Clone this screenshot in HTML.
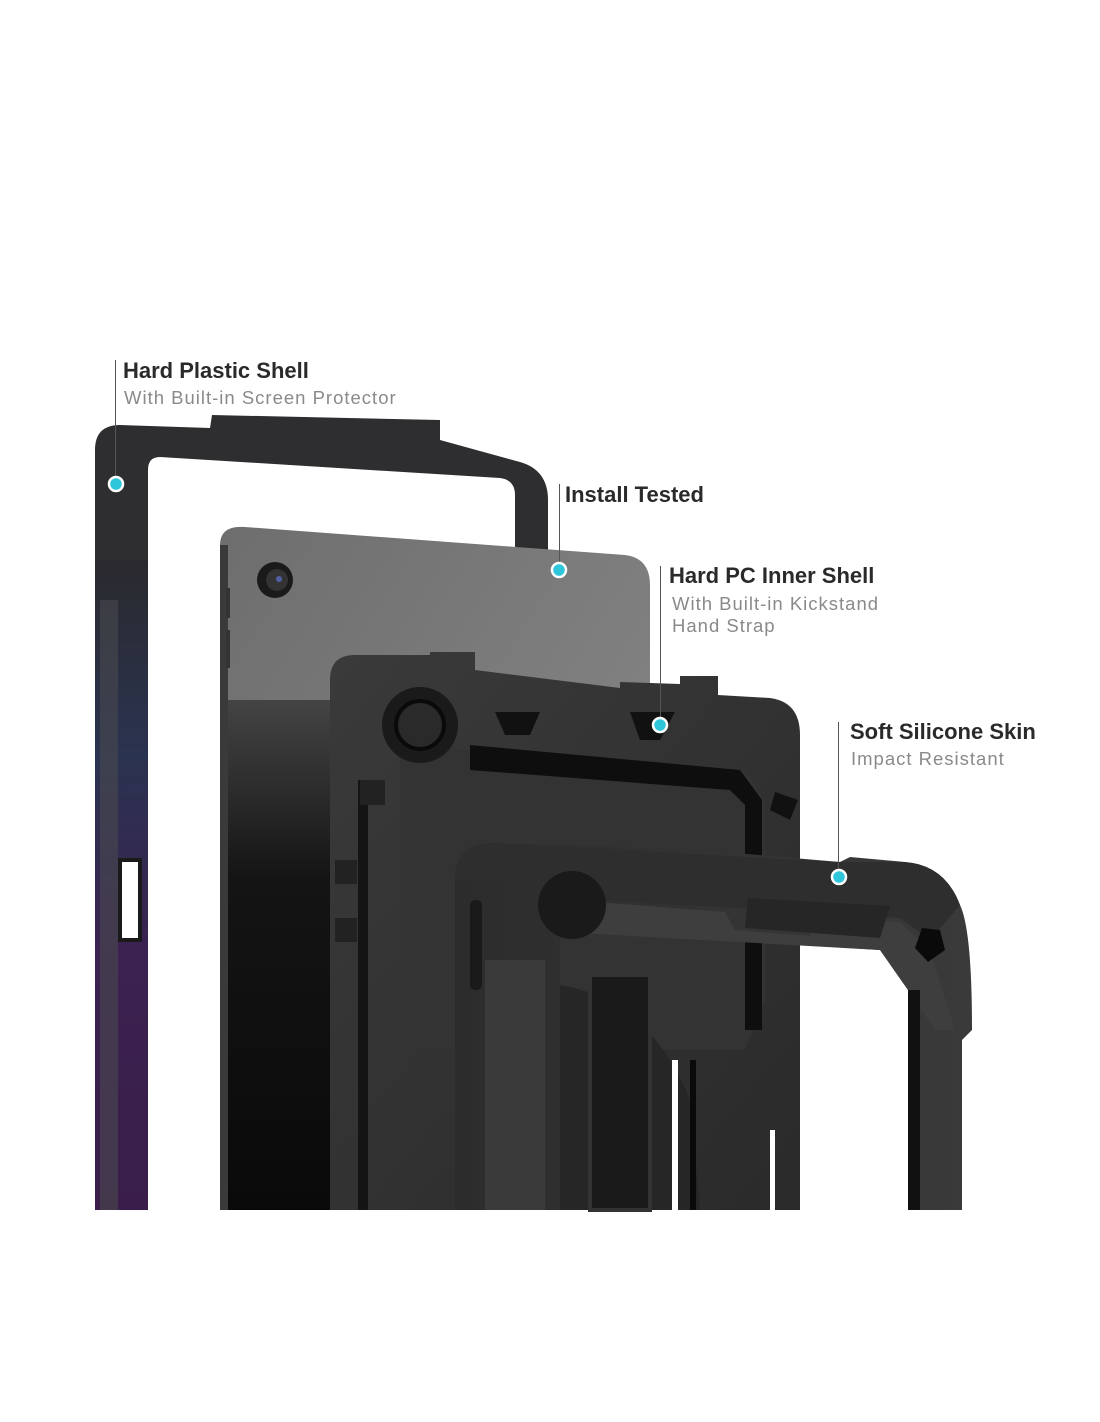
<!DOCTYPE html>
<html><head><meta charset="utf-8"><style>
html,body{margin:0;padding:0;background:#fff;}
svg{display:block}
.t{font-family:"Liberation Sans","DejaVu Sans",sans-serif;font-weight:bold;font-size:22px;fill:#2a2a2a}
.s{font-family:"Liberation Sans","DejaVu Sans",sans-serif;font-size:18.5px;fill:#8a8a8a;letter-spacing:1px}
</style></head><body>
<svg width="1100" height="1422" viewBox="0 0 1100 1422" xmlns="http://www.w3.org/2000/svg">
<defs>
<linearGradient id="lf" x1="0" y1="0" x2="0" y2="1"><stop offset="0" stop-color="#2a2a2e"/><stop offset="0.3" stop-color="#2a3350"/><stop offset="0.6" stop-color="#3b2250"/><stop offset="1" stop-color="#3a1d4a"/></linearGradient>
<linearGradient id="tb" x1="0" y1="0" x2="1" y2="1"><stop offset="0" stop-color="#6e6e6e"/><stop offset="0.5" stop-color="#7d7d7d"/><stop offset="1" stop-color="#8a8a8a"/></linearGradient>
<linearGradient id="tl" x1="0" y1="0" x2="0" y2="1"><stop offset="0" stop-color="#444"/><stop offset="0.35" stop-color="#141414"/><stop offset="1" stop-color="#0a0a0a"/></linearGradient>
<linearGradient id="pc" x1="0" y1="0" x2="1" y2="1"><stop offset="0" stop-color="#3a3a3a"/><stop offset="1" stop-color="#2a2a2a"/></linearGradient>
<linearGradient id="sk" x1="0" y1="0" x2="1" y2="0"><stop offset="0" stop-color="#2c2c2c"/><stop offset="1" stop-color="#3a3a3a"/></linearGradient>
</defs>
<rect width="1100" height="1422" fill="#fff"/>

<path d="M95 1210 L95 450 Q95 425 120 425 L210 428 L212 415 L440 420 L440 440 L520 462 Q548 470 548 500 L548 1210 Z" fill="#2e2e30"/>
<path d="M148 470 Q148 457 160 457 L500 478 Q515 480 515 495 L515 1210 L148 1210 Z" fill="#fff"/>
<rect x="95" y="560" width="53" height="650" fill="url(#lf)"/>
<rect x="100" y="600" width="18" height="610" fill="#4a4a4e" opacity="0.6"/>
<path d="M120 860 L140 860 L140 940 L120 940 Z" fill="#fff" stroke="#1a1a1a" stroke-width="4"/>

<path d="M220 1210 L220 545 Q220 525 245 527 L625 555 Q650 558 650 585 L650 1210 Z" fill="url(#tb)"/>
<path d="M220 700 L330 700 L330 1210 L220 1210 Z" fill="url(#tl)"/>
<rect x="220" y="545" width="8" height="665" fill="#3a3a3a"/>
<circle cx="275" cy="580" r="18" fill="#1a1a1a"/><circle cx="277" cy="580" r="11" fill="#333"/><circle cx="279" cy="579" r="3" fill="#5060a0"/>
<rect x="226" y="588" width="4" height="30" fill="#333"/><rect x="226" y="630" width="4" height="38" fill="#333"/>

<path d="M330 1210 L330 680 Q330 655 355 655 L430 655 L430 652 L475 652 L475 670 L620 688 L620 682 L680 684 L680 676 L718 676 L718 695 L770 698 Q800 702 800 735 L800 1210 Z" fill="url(#pc)"/>
<path d="M400 745 L745 770 L765 800 L765 1000 L745 1050 L400 1050 Z" fill="#333"/>
<path d="M470 745 L740 770 L762 800 L762 1030 L745 1030 L745 805 L730 790 L470 770 Z" fill="#0e0e0e"/>
<circle cx="420" cy="725" r="38" fill="#1a1a1a"/><circle cx="420" cy="725" r="24" fill="#2a2a2a" stroke="#0a0a0a" stroke-width="4"/>
<path d="M495 712 L540 712 L530 735 L505 735 Z" fill="#111"/>
<path d="M630 712 L675 712 L660 740 L640 740 Z" fill="#111"/>
<path d="M775 792 L798 800 L790 820 L770 810 Z" fill="#111"/>
<rect x="358" y="780" width="10" height="430" fill="#141414"/>
<rect x="335" y="860" width="22" height="24" fill="#222"/><rect x="335" y="918" width="22" height="24" fill="#222"/>
<rect x="360" y="780" width="25" height="25" fill="#222"/>

<path d="M455 1210 L455 880 Q455 845 490 843 L700 850 L840 862 L850 857 L905 862 Q945 865 960 905 Q972 930 972 1030 L962 1040 L962 1210 L908 1210 L908 990 L880 950 L800 945 L560 930 L560 1210 Z" fill="url(#sk)"/>
<path d="M455 880 Q455 845 490 843 L840 862 L905 862 Q945 865 960 905 L930 940 L900 918 L600 900 L560 885 Z" fill="#2e2e2e"/>
<path d="M570 900 L725 912 L735 930 L810 936 L820 918 L900 922 L930 950 L955 1030 L935 1030 L908 990 L880 950 L560 932 Z" fill="#3e3e3e"/>
<path d="M748 898 L890 906 L880 938 L745 928 Z" fill="#262626"/>
<path d="M922 928 L940 930 L945 950 L928 962 L915 948 Z" fill="#0a0a0a"/>
<circle cx="572" cy="905" r="34" fill="#1a1a1a"/>
<path d="M560 1210 L560 985 Q650 1000 690 1100 L700 1210 Z" fill="#262626"/>
<rect x="590" y="975" width="60" height="235" fill="#1a1a1a" stroke="#333" stroke-width="4"/>
<rect x="470" y="900" width="12" height="90" rx="5" fill="#1a1a1a"/>
<rect x="485" y="960" width="60" height="250" fill="#3a3a3a"/>
<rect x="672" y="1060" width="6" height="150" fill="#fff"/><rect x="690" y="1060" width="6" height="150" fill="#0a0a0a"/>
<rect x="770" y="1130" width="5" height="80" fill="#fff"/>
<rect x="908" y="990" width="12" height="220" fill="#111"/>

<g stroke="#555" stroke-width="1">
<line x1="115.5" y1="360" x2="115.5" y2="480"/>
<line x1="559.5" y1="484" x2="559.5" y2="566"/>
<line x1="660.5" y1="566" x2="660.5" y2="721"/>
<line x1="838.5" y1="722" x2="838.5" y2="873"/>
</g>
<g fill="#2fc6dc" stroke="#fff" stroke-width="2.5">
<circle cx="116" cy="484" r="7"/>
<circle cx="559" cy="570" r="7"/>
<circle cx="660" cy="725" r="7"/>
<circle cx="839" cy="877" r="7"/>
</g>
<text class="t" x="123" y="378">Hard Plastic Shell</text>
<text class="s" x="124" y="404">With Built-in Screen Protector</text>
<text class="t" x="565" y="502">Install Tested</text>
<text class="t" x="669" y="583">Hard PC Inner Shell</text>
<text class="s" x="672" y="610">With Built-in Kickstand</text>
<text class="s" x="672" y="632">Hand Strap</text>
<text class="t" x="850" y="739">Soft Silicone Skin</text>
<text class="s" x="851" y="765">Impact Resistant</text>
</svg>
</body></html>
